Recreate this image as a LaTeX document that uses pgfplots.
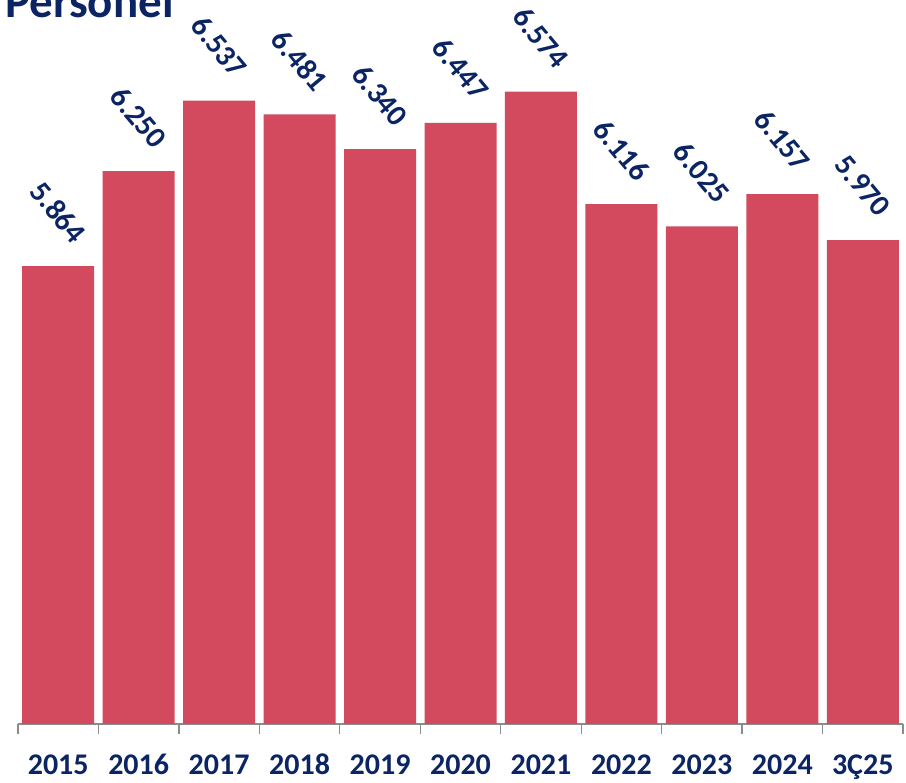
\documentclass[border=0pt]{standalone}
\usepackage{fontspec}
\setmainfont{Carlito}
\usepackage{pgfplots}
\pgfplotsset{compat=1.18}
\definecolor{barred}{HTML}{D34A5E}
\definecolor{navy}{HTML}{0B2463}
\definecolor{axgray}{HTML}{8C8C8C}
\begin{document}
\begin{tikzpicture}
\useasboundingbox (-18pt,-59pt) rectangle (888pt,724pt);
\clip (-18pt,-59pt) rectangle (888pt,724pt);
\begin{axis}[
  at={(0pt,0pt)}, anchor=south west,
  scale only axis, width=885pt, height=724pt,
  xmin=-0.5, xmax=10.5, ymin=4000, ymax=6947,
  axis x line*=bottom, axis y line=none,
  xtick={0,...,10},
  xticklabels={2015,2016,2017,2018,2019,2020,2021,2022,2023,2024,3Ç25},
  major tick length=0pt,
  minor xtick={-0.5,0.5,...,10.5},
  minor tick length=10pt,
  tick align=outside,
  tick style={axgray, line width=1.3pt},
  x axis line style={axgray, line width=1.3pt},
  xticklabel style={font=\fontsize{30}{36}\selectfont\bfseries, text=navy, anchor=base, yshift=-51pt},
  ybar, bar width=72pt,
  clip=false,
  nodes near coords={\pgfmathprintnumber[fixed,precision=0,1000 sep={.},assume math mode=true]{\pgfplotspointmeta}},
  every node near coord/.append style={font=\fontsize{30}{36}\selectfont\bfseries, text=navy, anchor=center, yshift=54pt, rotate=-50},
]
\addplot[fill=barred, draw=none] coordinates {(0,5864) (1,6250) (2,6537) (3,6481) (4,6340) (5,6447) (6,6574) (7,6116) (8,6025) (9,6157) (10,5970)};
\end{axis}
\node[anchor=base west, text=navy, font=\fontsize{47}{56}\selectfont\bfseries, inner sep=0pt] at (-13pt,706pt) {Personel};
\end{tikzpicture}
\end{document}
